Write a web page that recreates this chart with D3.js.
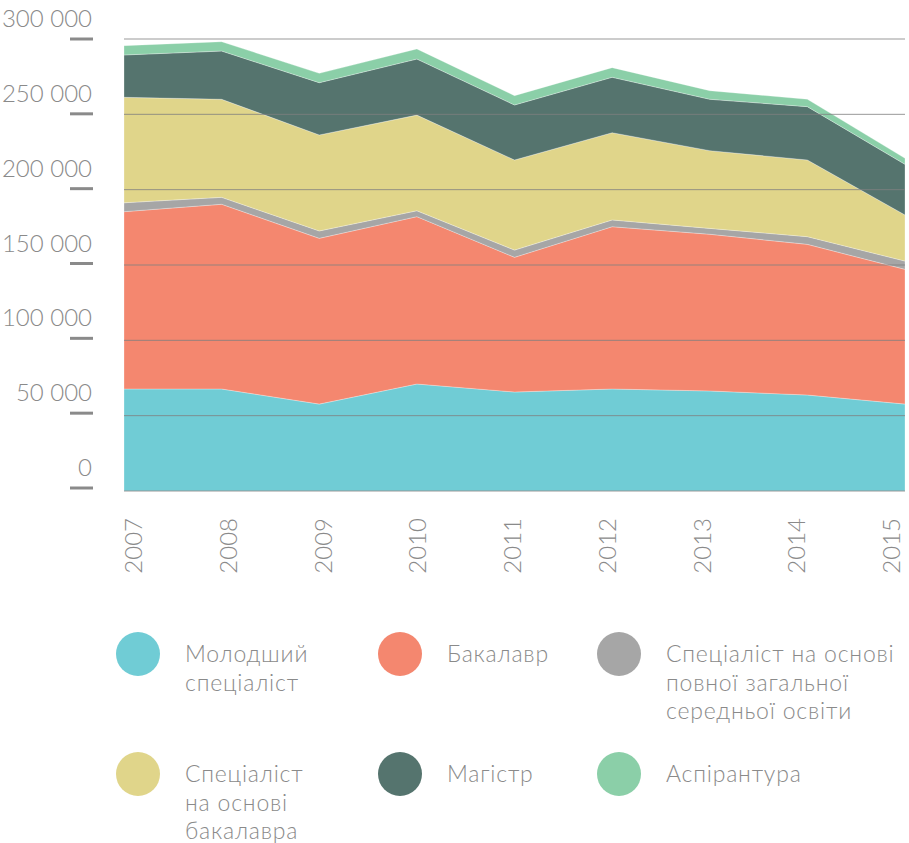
<!DOCTYPE html>
<html>
<head>
<meta charset="utf-8">
<script src="https://cdn.jsdelivr.net/npm/d3@7"></script>
<style>
  body { margin: 0; background: #fff; }
  svg text { font-family: "Lato", "Open Sans", sans-serif; font-weight: 300; fill: #8a8a8a; }
</style>
</head>
<body>
<div class="chart-wrapper"></div>
<script>
const years = [2007, 2008, 2009, 2010, 2011, 2012, 2013, 2014, 2015]

// values (students)
const junior = [67700, 67700, 57700, 71000, 65700, 67700, 66400, 63700, 57700]
const bachelor = [117700, 122600, 110000, 111100, 89400, 107700, 104000, 100000, 89400]
const specialistSchool = [5900, 4600, 4900, 3900, 4800, 4500, 3900, 5100, 5500]
const specialistBachelor = [70000, 65100, 63700, 63500, 59800, 57900, 51600, 50900, 30600]
const master = [28100, 32000, 34700, 37200, 36500, 36800, 34100, 35400, 33600]
const postgrad = [6200, 6200, 6200, 6700, 6200, 6400, 5700, 4900, 4000]

const yTicks = [0, 50000, 100000, 150000, 200000, 250000, 300000]

const seriesKeys = ['junior', 'bachelor', 'specialistSchool', 'specialistBachelor', 'master', 'postgrad']
const seriesLabels = [
  ['Молодший', 'спеціаліст'],
  ['Бакалавр'],
  ['Спеціаліст на основі', 'повної загальної', 'середньої освіти'],
  ['Спеціаліст', 'на основі', 'бакалавра'],
  ['Магістр'],
  ['Аспірантура']
]
const colors = ['#70ccd5', '#f4876f', '#a6a6a6', '#e0d58a', '#55746e', '#8bcfa8']

const width = 909, height = 843

let table = years.map((y, i) => ({
  year: y,
  junior: junior[i],
  bachelor: bachelor[i],
  specialistSchool: specialistSchool[i],
  specialistBachelor: specialistBachelor[i],
  master: master[i],
  postgrad: postgrad[i]
}))

const svg = d3.select('.chart-wrapper')
.append('svg')
.attr('width', width)
.attr('height', height)

let xScale = d3.scalePoint()
.domain(years)
.range([124, 905])

let yScale = d3.scaleLinear()
.domain([0, 300000])
.range([491, 39])

// the little dashes on the left sit on a slightly tighter scale
let yDash = yScale.copy().range([488, 39])

let stacked = d3.stack().keys(seriesKeys)(table)

let area = d3.area()
.x(d => xScale(d.data.year))
.y0(d => yScale(d[0]))
.y1(d => yScale(d[1]))

svg.append('g')
.attr('class', 'areas')
.selectAll('path')
.data(stacked)
.enter()
.append('path')
.attr('d', area)
.style('fill', (d, i) => colors[i])
.style('stroke', '#fff')
.style('stroke-opacity', .35)
.style('stroke-width', .8)

// gridlines over the areas
svg.append('g')
.attr('class', 'grid')
.selectAll('line')
.data(yTicks)
.enter()
.append('line')
.attr('x1', 124)
.attr('x2', 905)
.attr('y1', d => yScale(d))
.attr('y2', d => yScale(d))
.style('stroke', '#808080')
.style('stroke-opacity', .8)
.style('stroke-width', 1)

const yAxis = svg.append('g')
.attr('class', 'y-axis')

yAxis.selectAll('line')
.data(yTicks)
.enter()
.append('line')
.attr('x1', 70)
.attr('x2', 93)
.attr('y1', d => yDash(d))
.attr('y2', d => yDash(d))
.style('stroke', '#8a8a8a')
.style('stroke-width', 3)

yAxis.selectAll('text')
.data(yTicks)
.enter()
.append('text')
.attr('x', 92)
.attr('y', d => yDash(d) - 12)
.attr('text-anchor', 'end')
.style('font-size', '24px')
.text(d => d3.format(',')(d).replace(/,/g, ' '))

// year labels, rotated
let xLabel = d3.scalePoint()
.domain(years)
.range([134, 892])

svg.append('g')
.attr('class', 'x-axis')
.selectAll('text')
.data(years)
.enter()
.append('text')
.attr('transform', d => 'translate(' + (xLabel(d) + 8) + ',518) rotate(-90)')
.attr('text-anchor', 'end')
.style('font-size', '24px')
.text(d => d)

// legend
const legendX = [138, 400, 619]
const legendTextX = [185, 447, 666]
const legendY = [654, 774]

let legend = svg.append('g')
.attr('class', 'legend')
.selectAll('g')
.data(seriesLabels)
.enter()
.append('g')

legend.append('circle')
.attr('cx', (d, i) => legendX[i % 3])
.attr('cy', (d, i) => legendY[Math.floor(i / 3)])
.attr('r', 22)
.style('fill', (d, i) => colors[i])

legend.append('text')
.style('font-size', '23px')
.style('letter-spacing', '0.8px')
.each(function(d, i) {
  d3.select(this)
  .selectAll('tspan')
  .data(d)
  .enter()
  .append('tspan')
  .attr('x', legendTextX[i % 3])
  .attr('y', (t, j) => legendY[Math.floor(i / 3)] + 8 + j * 28.5)
  .text(t => t)
})
</script>
</body>
</html>
